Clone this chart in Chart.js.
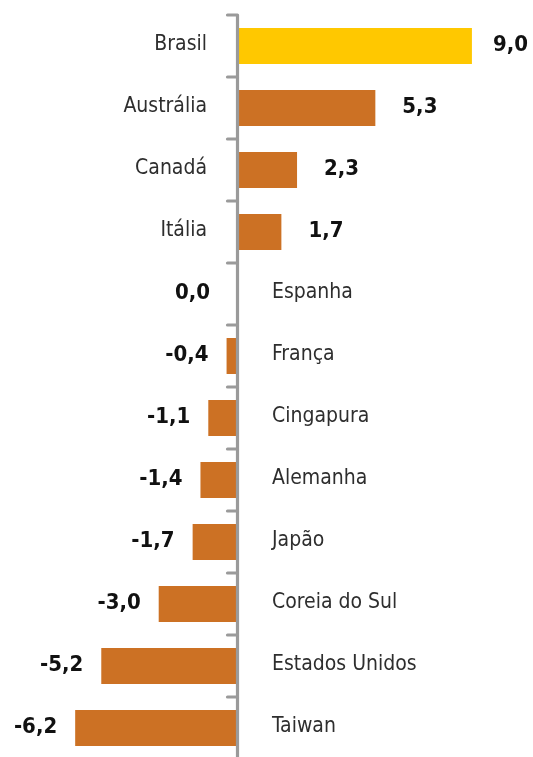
<!DOCTYPE html>
<html>
<head>
<meta charset="utf-8">
<script src="https://cdn.jsdelivr.net/npm/chart.js@4/dist/chart.umd.min.js"></script>
<style>
  html, body { margin: 0; padding: 0; background: #ffffff; overflow: hidden; }
  #wrap { position: relative; width: 533px; height: 757px; overflow: hidden; }
</style>
</head>
<body>
<div id="wrap"><canvas id="c" width="533" height="760"></canvas></div>
<script>
const categories = ["Brasil", "Austrália", "Canadá", "Itália", "Espanha", "França", "Cingapura", "Alemanha", "Japão", "Coreia do Sul", "Estados Unidos", "Taiwan"];
const values = [9.0, 5.3, 2.3, 1.7, 0.0, -0.4, -1.1, -1.4, -1.7, -3.0, -5.2, -6.2];
const highlight = "Brasil";

const ORANGE = "#CC7124";
const YELLOW = "#FFC800";
const AXIS = "#9a9a9a";
const CAT_FONT = "21px 'Liberation Sans Narrow', 'Arial Narrow', 'DejaVu Sans Condensed', sans-serif";
const VAL_FONT = "bold 22px 'Liberation Sans Narrow', 'Arial Narrow', 'DejaVu Sans Condensed', sans-serif";

const fmt = v => v.toFixed(1).replace(".", ",");

const labelPlugin = {
  id: "labels",
  afterDatasetsDraw(chart) {
    const ctx = chart.ctx;
    const xs = chart.scales.x, ys = chart.scales.y;
    const zero = xs.getPixelForValue(0);
    const meta = chart.getDatasetMeta(0);
    const n = categories.length;
    ctx.save();
    ctx.strokeStyle = AXIS;
    ctx.lineWidth = 3.2;
    ctx.lineCap = "round";
    ctx.lineJoin = "round";
    const step = (ys.getPixelForValue(1) - ys.getPixelForValue(0));
    const top = ys.getPixelForValue(0) - step / 2;
    const axX = zero + 0.5;
    ctx.beginPath();
    ctx.moveTo(axX - 10, top);
    ctx.lineTo(axX, top);
    ctx.lineTo(axX, chart.height + 5);
    ctx.stroke();
    for (let i = 1; i <= n; i++) {
      const y = top + step * i;
      ctx.beginPath();
      ctx.moveTo(axX - 10, y);
      ctx.lineTo(axX, y);
      ctx.stroke();
    }
    ctx.restore();

    ctx.save();
    ctx.textBaseline = "middle";
    meta.data.forEach((bar, i) => {
      const v = values[i];
      const y = bar.y - 1;
      const end = xs.getPixelForValue(v);
      ctx.font = CAT_FONT;
      ctx.fillStyle = "#2e2e2e";
      if (v > 0) {
        ctx.textAlign = "right";
        ctx.fillText(categories[i], zero - 30, y);
      } else {
        ctx.textAlign = "left";
        ctx.fillText(categories[i], zero + 35, y);
      }
      ctx.font = VAL_FONT;
      ctx.fillStyle = "#111111";
      const txt = fmt(v);
      const w = ctx.measureText(txt).width;
      if (v > 0) {
        ctx.textAlign = "left";
        const x = Math.min(end + 27, chart.width - 5 - w);
        ctx.fillText(txt, x, y);
      } else {
        ctx.textAlign = "right";
        ctx.fillText(txt, Math.min(end - 18, zero - 27), y);
      }
    });
    ctx.restore();
  }
};

new Chart(document.getElementById("c"), {
  type: "bar",
  data: {
    labels: categories,
    datasets: [{
      data: values,
      backgroundColor: categories.map(c => c === highlight ? YELLOW : ORANGE),
      borderWidth: 0,
      barPercentage: 0.58,
      categoryPercentage: 1.0
    }]
  },
  options: {
    indexAxis: "y",
    responsive: false,
    animation: false,
    layout: { padding: { top: 15, bottom: 1, left: 0, right: 0 } },
    plugins: { legend: { display: false }, tooltip: { enabled: false } },
    scales: {
      x: { display: false, min: -9.08, max: 11.34 },
      y: { display: false }
    }
  },
  plugins: [labelPlugin]
});
</script>
</body>
</html>
